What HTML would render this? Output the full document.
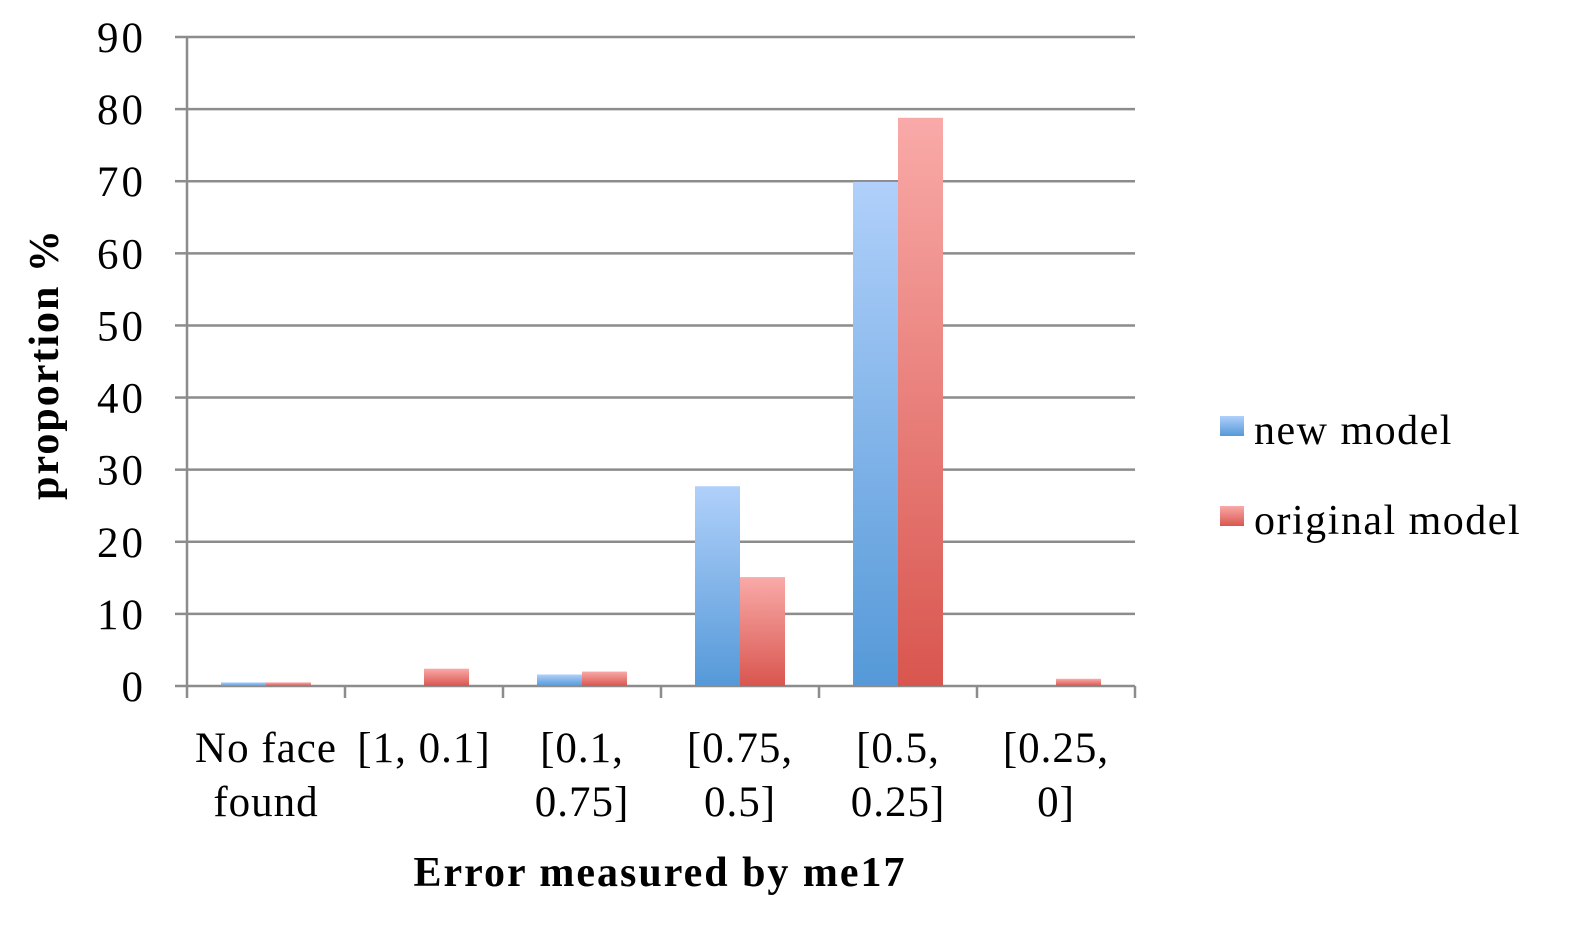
<!DOCTYPE html>
<html><head><meta charset="utf-8"><style>
body{margin:0;background:#fff;}
svg text{font-family:"Liberation Serif",serif;fill:#000;}
</style></head><body>
<svg id="chart" width="1586" height="932">
<defs>
<linearGradient id="gb" x1="0" y1="0" x2="0" y2="1"><stop offset="0" stop-color="#b0d0fa"/><stop offset="1" stop-color="#5599d8"/></linearGradient>
<linearGradient id="gr" x1="0" y1="0" x2="0" y2="1"><stop offset="0" stop-color="#f9aaa8"/><stop offset="1" stop-color="#d9564f"/></linearGradient>
</defs>
<g id="grid"></g><g id="bars"></g><g id="axes"></g>
<text x="58" y="364" font-size="42" font-weight="bold" letter-spacing="2" text-anchor="middle" transform="rotate(-90 58 364)">proportion %</text>
<text x="660" y="886" font-size="42" font-weight="bold" letter-spacing="2" text-anchor="middle">Error measured by me17</text>
<g>
<rect x="1220" y="416" width="24" height="20" fill="url(#gb)"/>
<text x="1254" y="444" font-size="42" letter-spacing="1.5">new model</text>
<rect x="1220" y="506" width="24" height="20" fill="url(#gr)"/>
<text x="1254" y="534" font-size="42" letter-spacing="1.5">original model</text>
</g>
</svg>
<script>
const categories=[["No face","found"],["[1, 0.1]"],["[0.1,","0.75]"],["[0.75,","0.5]"],["[0.5,","0.25]"],["[0.25,","0]"]];
const newModel=[0.5,0,1.6,27.7,69.9,0];
const originalModel=[0.5,2.4,2.0,15.1,78.8,1.0];
const yTicks=[0,10,20,30,40,50,60,70,80,90];
const NS="http://www.w3.org/2000/svg";
const x0=187,x1=1135,yb=686,yt=37,ymax=90;
const y=v=>yb-(v/ymax)*(yb-yt);
const cw=(x1-x0)/categories.length;
function mk(t,a,p){const e=document.createElementNS(NS,t);for(const k in a)e.setAttribute(k,a[k]);p.appendChild(e);return e;}
const grid=document.getElementById('grid'),bars=document.getElementById('bars'),axes=document.getElementById('axes');
yTicks.forEach(v=>{
 const l=mk('line',{x1:x0,x2:x1,y1:y(v),y2:y(v),stroke:'#8c8c8c','stroke-width':2.5},grid);
 
 
 mk('line',{x1:x0-12,x2:x0,y1:y(v),y2:y(v),stroke:'#8c8c8c','stroke-width':2.5},axes);
 const t=mk('text',{x:146,y:y(v)+15,'font-size':43,'letter-spacing':3,'text-anchor':'end'},axes);t.textContent=v;
 
 
});
mk('line',{x1:x0,x2:x0,y1:yt,y2:yb+12,stroke:'#8c8c8c','stroke-width':2.5},axes);
categories.forEach((c,i)=>{
 const cx=x0+i*cw;
 mk('line',{x1:cx+cw,x2:cx+cw,y1:yb,y2:yb+12,stroke:'#8c8c8c','stroke-width':2.5},axes);
 const b=mk('rect',{x:cx+34,y:y(newModel[i]),width:45,height:yb-y(newModel[i]),fill:'url(#gb)'},bars);
 
 
 const r=mk('rect',{x:cx+79,y:y(originalModel[i]),width:45,height:yb-y(originalModel[i]),fill:'url(#gr)'},bars);
 
 
 c.forEach((s,j)=>{const t=mk('text',{x:cx+cw/2,y:762+j*54,'font-size':43,'letter-spacing':1,'text-anchor':'middle'},axes);t.textContent=s;
 
 });
});
</script>
</body></html>
